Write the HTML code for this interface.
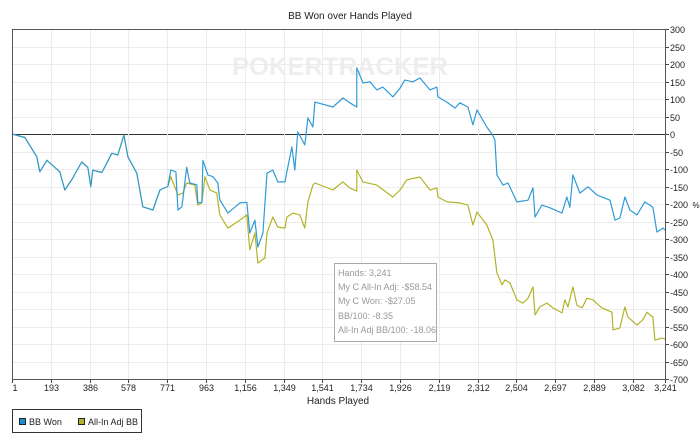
<!DOCTYPE html>
<html><head><meta charset="utf-8"><style>
body{margin:0;background:#fff;font-family:"Liberation Sans",sans-serif;}
svg text{font-family:"Liberation Sans",sans-serif;}
</style></head><body>
<svg id="chart" width="700" height="440" xmlns="http://www.w3.org/2000/svg">
<text x="350" y="19" font-size="10" text-anchor="middle" fill="#222">BB Won over Hands Played</text>
<text x="340" y="75" font-size="25" font-weight="bold" text-anchor="middle" fill="#eeeeee" textLength="216" lengthAdjust="spacingAndGlyphs">POKERTRACKER</text>
<g id="grid"></g>
<g id="series"></g>
<g id="axes"></g>
<text x="338" y="404" font-size="10" text-anchor="middle" fill="#222">Hands Played</text>
<text x="696" y="208" font-size="8" text-anchor="middle" fill="#222">%</text>
<g>
<rect x="334.5" y="263.5" width="102" height="78" fill="#fff" stroke="#aaa"/>
<text x="338" y="276" font-size="9" fill="#999">Hands: 3,241</text>
<text x="338" y="290" font-size="9" fill="#999">My C All-In Adj: -$58.54</text>
<text x="338" y="304" font-size="9" fill="#999">My C Won: -$27.05</text>
<text x="338" y="319" font-size="9" fill="#999">BB/100: -8.35</text>
<text x="338" y="333" font-size="9" fill="#999">All-In Adj BB/100: -18.06</text>
</g>
<g>
<rect x="12.5" y="409.5" width="129" height="23" fill="#fff" stroke="#333"/>
<g><rect x="19.5" y="418.5" width="6" height="6" fill="#1f8fd0" stroke="#222"/><text x="29" y="425" font-size="9" fill="#222">BB Won</text></g>
<g><rect x="78.5" y="418.5" width="6" height="6" fill="#b3b32a" stroke="#222"/><text x="88" y="425" font-size="9" fill="#222">All-In Adj BB</text></g>
</g>
</svg>
<script>
const xTicks=[1,193,386,578,771,963,1156,1349,1541,1734,1926,2119,2312,2504,2697,2889,3082,3241];
const yTicks=[300,250,200,150,100,50,0,-50,-100,-150,-200,-250,-300,-350,-400,-450,-500,-550,-600,-650,-700];
const blueHands=[1,65,124,139,174,238,263,298,347,377,392,402,447,496,526,556,576,620,650,700,735,774,789,814,824,844,868,883,918,923,943,948,973,998,1022,1032,1072,1132,1166,1181,1206,1221,1246,1266,1295,1320,1355,1365,1390,1404,1419,1454,1469,1494,1504,1593,1643,1677,1712,1712,1742,1777,1811,1841,1891,1926,1950,1990,2025,2075,2109,2114,2159,2199,2223,2263,2288,2308,2357,2382,2397,2407,2437,2462,2506,2561,2586,2596,2630,2670,2730,2754,2769,2784,2819,2859,2903,2968,2993,3017,3042,3067,3102,3141,3181,3201,3231,3241];
const blueVals=[0,-10,-65,-108,-75,-108,-160,-130,-80,-95,-150,-103,-110,-55,-60,-3,-65,-112,-208,-217,-160,-150,-103,-108,-217,-208,-95,-140,-145,-197,-195,-75,-117,-122,-140,-188,-226,-197,-195,-283,-246,-323,-283,-112,-103,-137,-137,-108,-37,-103,6,-31,46,20,91,77,103,89,77,189,146,149,126,134,106,131,154,149,160,126,134,106,91,74,89,77,26,69,20,0,-17,-117,-146,-140,-194,-189,-154,-237,-203,-211,-226,-180,-209,-117,-169,-151,-174,-189,-246,-240,-180,-217,-231,-194,-209,-280,-269,-274];
const goldHands=[1,65,124,139,174,238,263,298,347,377,392,402,447,496,526,556,576,620,650,700,735,774,789,824,849,868,908,923,943,958,983,1017,1032,1072,1132,1166,1181,1206,1221,1256,1266,1295,1320,1355,1365,1395,1429,1454,1469,1494,1504,1593,1643,1677,1712,1712,1742,1811,1891,1926,1960,2025,2075,2109,2114,2159,2223,2263,2288,2308,2357,2387,2407,2432,2447,2472,2506,2536,2561,2586,2596,2620,2655,2685,2730,2744,2759,2784,2804,2829,2854,2884,2928,2978,2983,3017,3042,3057,3102,3131,3151,3181,3191,3226,3241];
const goldVals=[0,-10,-65,-108,-75,-108,-160,-130,-80,-95,-150,-103,-110,-55,-60,-3,-65,-112,-208,-217,-160,-150,-122,-174,-169,-140,-146,-203,-197,-122,-160,-169,-231,-269,-246,-231,-331,-283,-369,-354,-283,-237,-266,-269,-237,-226,-231,-269,-194,-146,-140,-160,-137,-154,-163,-103,-137,-146,-180,-160,-131,-123,-160,-154,-180,-194,-197,-203,-260,-223,-260,-303,-397,-431,-417,-426,-474,-483,-469,-437,-517,-494,-483,-497,-511,-474,-494,-437,-489,-497,-469,-474,-497,-509,-560,-554,-494,-523,-546,-531,-509,-523,-589,-583,-586];
const L=12,R=665,T=29,B=379;
const xS=h=>L+(h-1)/(3241-1)*(R-L);
const yS=v=>T+(300-v)/1000*(B-T);
const NS="http://www.w3.org/2000/svg";
function mk(tag,attrs,parent){const e=document.createElementNS(NS,tag);for(const k in attrs)e.setAttribute(k,attrs[k]);parent.appendChild(e);return e;}
const grid=document.getElementById('grid'),axes=document.getElementById('axes'),ser=document.getElementById('series');
yTicks.forEach(v=>{
 const y=Math.round(yS(v))+0.5;
 const g=mk('line',{x1:L,x2:R,y1:y,y2:y,stroke:v===0?'#333':'#ececec','stroke-width':1},grid);
 
 
 mk('line',{x1:R,x2:R+4,y1:y,y2:y,stroke:'#444'},axes);
 const t=mk('text',{x:R+5,y:y+3.5,'font-size':9,fill:'#222'},axes);
 t.textContent=v;
 
 
});
xTicks.forEach((h,i)=>{
 const x=Math.round(xS(h))+0.5;
 const g=mk('line',{x1:x,x2:x,y1:T,y2:B,stroke:'#ececec'},grid);
 
 
 mk('line',{x1:x,x2:x,y1:B,y2:B+4,stroke:'#444'},axes);
 const t=mk('text',{x:x,y:B+12,'font-size':9,fill:'#222','text-anchor':i===0?'start':'middle'},axes);
 t.textContent=h.toLocaleString('en-US');
 
 
});
mk('path',{d:`M${L+0.5},${T+0.5}H${R+0.5}V${B+0.5}H${L+0.5}Z`,fill:'none',stroke:'#555'},axes);
function line(hs,vs,color,name){
 const d=hs.map((h,i)=>(i?'L':'M')+xS(h).toFixed(1)+','+yS(vs[i]).toFixed(1)).join('');
 const p=mk('path',{d:d,fill:'none',stroke:color,'stroke-width':1.2,'stroke-linejoin':'round'},ser);
 
 
}
line(goldHands,goldVals,'#b3b32a','all-in-adj-bb-line');
line(blueHands,blueVals,'#2f9bd6','bb-won-line');
</script>
</body></html>
